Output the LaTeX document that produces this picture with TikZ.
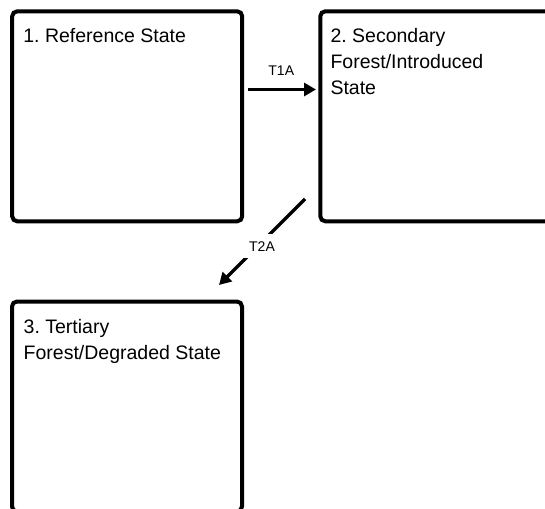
\documentclass[tikz,border=0pt]{standalone}
\usepackage{fontspec}
\setmainfont{Liberation Sans}
\usetikzlibrary{arrows.meta,positioning}

\begin{document}
\begin{tikzpicture}[x=1pt, y=-1pt,
    state/.style={draw, line width=4pt, rounded corners=5pt,
                  minimum width=230pt, minimum height=210pt, inner sep=0pt},
    stxt/.style={anchor=north west, inner sep=0pt, align=left,
                 font=\fontsize{19.5}{26}\selectfont\frenchspacing},
    arr/.style={-{Triangle[length=12pt,width=13pt]}, line width=3.4pt},
    labl/.style={font=\fontsize{14}{14}\selectfont, fill=white, inner sep=7pt}
  ]
  \useasboundingbox (0,0) rectangle (545,508);
  \clip (0,0) rectangle (545,508);
  %% --- State boxes ---
  \node[state] (ref) at (127.2,116.3) {};
  \node[state, minimum width=260pt] (sec) at (450.3,116.3) {};
  \node[state] (ter) at (127,406.5) {};
  % Box texts
  \node[stxt, below right=19.2pt and 13pt of ref.north west] (reft) {1. Reference State};
  \node[stxt, below right=19.2pt and 12pt of sec.north west] (sect)
        {2. Secondary\\Forest/Introduced\\State};
  \node[stxt, below right=19.2pt and 13.5pt of ter.north west] (tert)
        {3. Tertiary\\Forest/Degraded State};
  %% --- Transitions ---
  \draw[arr, shorten <=3.7pt, shorten >=2.3pt]
        ([yshift=26.8pt]ref.east) -- ([yshift=26.8pt]sec.west)
        node[midway, yshift=19pt, labl, fill=none] (t1a) {T1A};
  \draw[arr] ([shift={(-13.3,-24.3)}]sec.south west) -- ([shift={(-25,-14.5)}]ter.north east)
        node[midway, yshift=-4.3pt, labl] (t2a) {T2A};
\end{tikzpicture}
\end{document}
